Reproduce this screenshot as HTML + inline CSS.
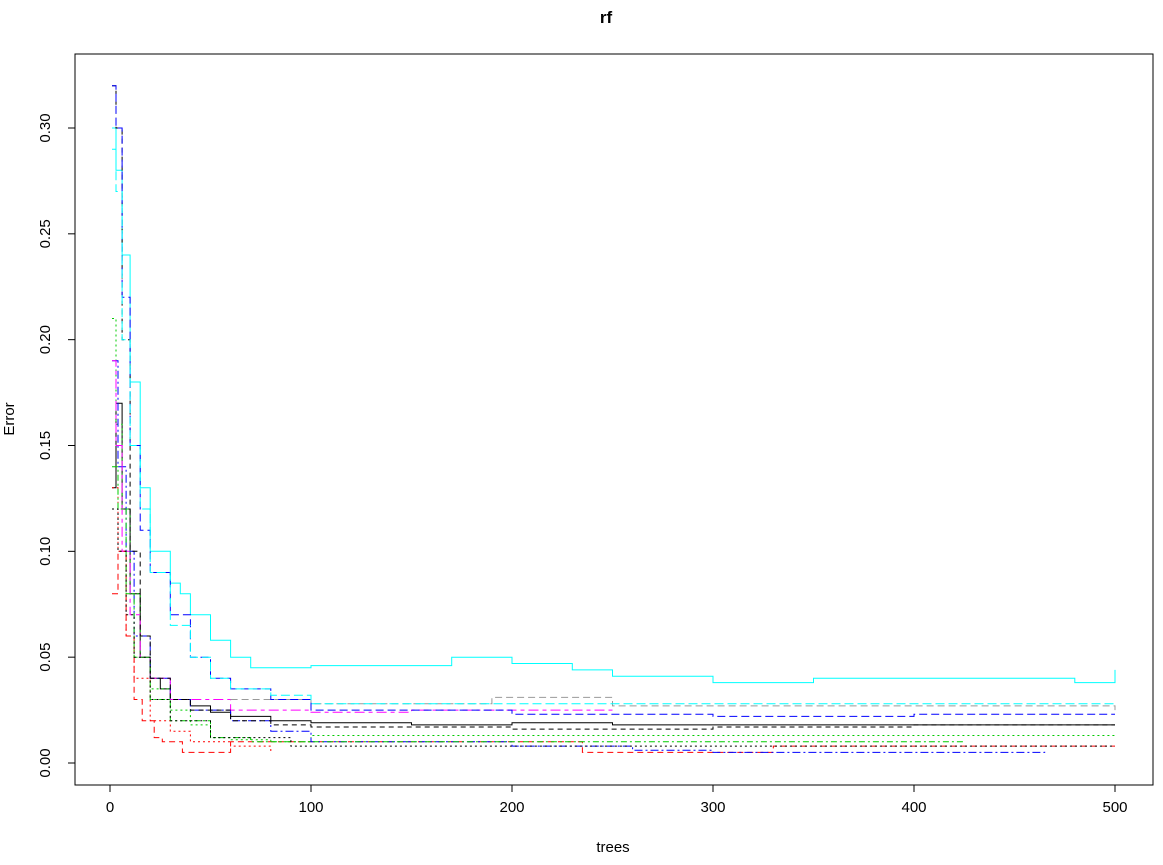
<!DOCTYPE html>
<html><head><meta charset="utf-8"><style>
body{margin:0;background:#fff;}
svg text{font-family:"Liberation Sans",sans-serif;}
</style></head><body>
<svg id="chart" width="1163" height="860" xmlns="http://www.w3.org/2000/svg">
<rect x="0" y="0" width="1163" height="860" fill="#fff"/>
<text x="606" y="23" font-size="17" font-weight="bold" text-anchor="middle">rf</text>
<rect x="75" y="54" width="1078" height="731" fill="none" stroke="#000"/>
<text x="613" y="852" font-size="15" text-anchor="middle">trees</text>
<text transform="translate(14,419) rotate(-90)" font-size="15" text-anchor="middle">Error</text>
<g id="axes"></g>
<g id="series"></g>
</svg>
<script>
const xTicks=[0,100,200,300,400,500];
const yTicks=[0.00,0.05,0.10,0.15,0.20,0.25,0.30];
const colors=["#000","#f00","#0c0","#00f","#0ff","#f0f","#999","#000","#f00","#00f","#0ff","#0c0","#000"];
const dashes=["","6,4","2,3","8,3,2,3","","10,4,4,4","7,4","5,4","2,3","8,4","9,4","6,3,2,3","2,3"];
const s0x=[1,3,6,10,15,20,25,30,40,50,60,80,100,150,200,250,300,400,500];
const s0y=[0.13,0.17,0.12,0.08,0.05,0.04,0.035,0.03,0.027,0.024,0.022,0.02,0.019,0.018,0.019,0.018,0.018,0.018,0.018];
const s1x=[1,4,8,12,16,22,26,32,36,50,60,120,200,228,235,320,330,500];
const s1y=[0.08,0.1,0.06,0.03,0.02,0.012,0.01,0.01,0.005,0.005,0.01,0.01,0.01,0.01,0.005,0.005,0.008,0.008];
const s2x=[1,3,6,10,15,20,30,40,50,60,80,100,200,300,500];
const s2y=[0.21,0.16,0.12,0.08,0.05,0.035,0.025,0.018,0.012,0.011,0.01,0.013,0.013,0.013,0.013];
const s3x=[1,4,8,12,20,30,40,60,80,100,150,200,230,260,300,350,400,465];
const s3y=[0.19,0.14,0.1,0.06,0.04,0.03,0.025,0.02,0.015,0.01,0.01,0.008,0.008,0.006,0.005,0.005,0.005,0.006];
const s4x=[1,3,6,10,15,20,25,30,35,40,50,60,70,100,150,170,200,230,250,300,350,450,480,500];
const s4y=[0.3,0.28,0.24,0.18,0.13,0.1,0.1,0.085,0.08,0.07,0.058,0.05,0.045,0.046,0.046,0.05,0.047,0.044,0.041,0.038,0.04,0.04,0.038,0.044];
const s5x=[1,3,6,10,15,20,30,40,60,100,150,200,250];
const s5y=[0.19,0.15,0.1,0.07,0.05,0.04,0.03,0.03,0.025,0.024,0.025,0.025,0.025];
const s6x=[60,100,150,190,250,500];
const s6y=[0.03,0.028,0.028,0.031,0.027,0.025];
const s7x=[1,3,6,10,15,20,30,40,60,80,100,200,300,400,500];
const s7y=[0.32,0.3,0.2,0.1,0.06,0.04,0.03,0.025,0.02,0.018,0.017,0.016,0.017,0.018,0.018];
const s8x=[1,4,8,12,20,30,40,60,80];
const s8y=[0.13,0.1,0.06,0.04,0.02,0.015,0.01,0.008,0.005];
const s9x=[1,3,6,10,15,20,30,40,50,60,80,100,150,200,300,400,500];
const s9y=[0.32,0.3,0.22,0.15,0.11,0.09,0.07,0.05,0.04,0.035,0.03,0.025,0.025,0.023,0.022,0.023,0.023];
const s10x=[1,3,6,10,15,20,30,40,50,60,80,100,200,300,500];
const s10y=[0.29,0.27,0.2,0.15,0.12,0.09,0.065,0.05,0.04,0.035,0.032,0.028,0.028,0.028,0.028];
const s11x=[1,4,8,12,20,30,50,70,100,200,300,425];
const s11y=[0.14,0.12,0.08,0.05,0.03,0.02,0.012,0.01,0.01,0.01,0.01,0.01];
const s12x=[1,4,8,12,20,30,50,90,100,200,300,500];
const s12y=[0.12,0.1,0.07,0.05,0.03,0.02,0.012,0.008,0.008,0.008,0.008,0.008];
const seriesX=[s0x,s1x,s2x,s3x,s4x,s5x,s6x,s7x,s8x,s9x,s10x,s11x,s12x];
const seriesY=[s0y,s1y,s2y,s3y,s4y,s5y,s6y,s7y,s8y,s9y,s10y,s11y,s12y];
const X=t=>110+t*(1115-110)/500;
const Y=v=>763-v*(763-128)/0.30;
const NS="http://www.w3.org/2000/svg";
const axes=document.getElementById('axes');
function mk(tag,attrs,parent){const e=document.createElementNS(NS,tag);for(const k in attrs)e.setAttribute(k,attrs[k]);parent.appendChild(e);return e;}
let xl=mk('line',{x1:X(0),x2:X(500),y1:785,y2:785,stroke:'#000'},axes);


xTicks.forEach(t=>{
 const l=mk('line',{x1:X(t),x2:X(t),y1:785,y2:792,stroke:'#000'},axes);
 
 
 const tx=mk('text',{x:X(t),y:812,'font-size':15,'text-anchor':'middle'},axes);tx.textContent=t;
 
 
});
let yl=mk('line',{x1:75,x2:75,y1:Y(0),y2:Y(0.3),stroke:'#000'},axes);


yTicks.forEach(v=>{
 const l=mk('line',{x1:68,x2:75,y1:Y(v),y2:Y(v),stroke:'#000'},axes);
 
 
 const tx=mk('text',{transform:`translate(50,${Y(v)}) rotate(-90)`,'font-size':15,'text-anchor':'middle'},axes);tx.textContent=v.toFixed(2);
 
 
});
const sg=document.getElementById('series');
seriesX.forEach((xs,i)=>{
 const ys=seriesY[i];
 let d='';
 xs.forEach((t,j)=>{
  if(j===0){d+='M'+X(t).toFixed(1)+','+Y(ys[j]).toFixed(1);}
  else{d+='L'+X(t).toFixed(1)+','+Y(ys[j-1]).toFixed(1)+'L'+X(t).toFixed(1)+','+Y(ys[j]).toFixed(1);}
 });
 const p=mk('path',{d:d,fill:'none',stroke:colors[i],'stroke-width':1},sg);
 if(dashes[i])p.setAttribute('stroke-dasharray',dashes[i]);
 
 
});
</script>
</body></html>
